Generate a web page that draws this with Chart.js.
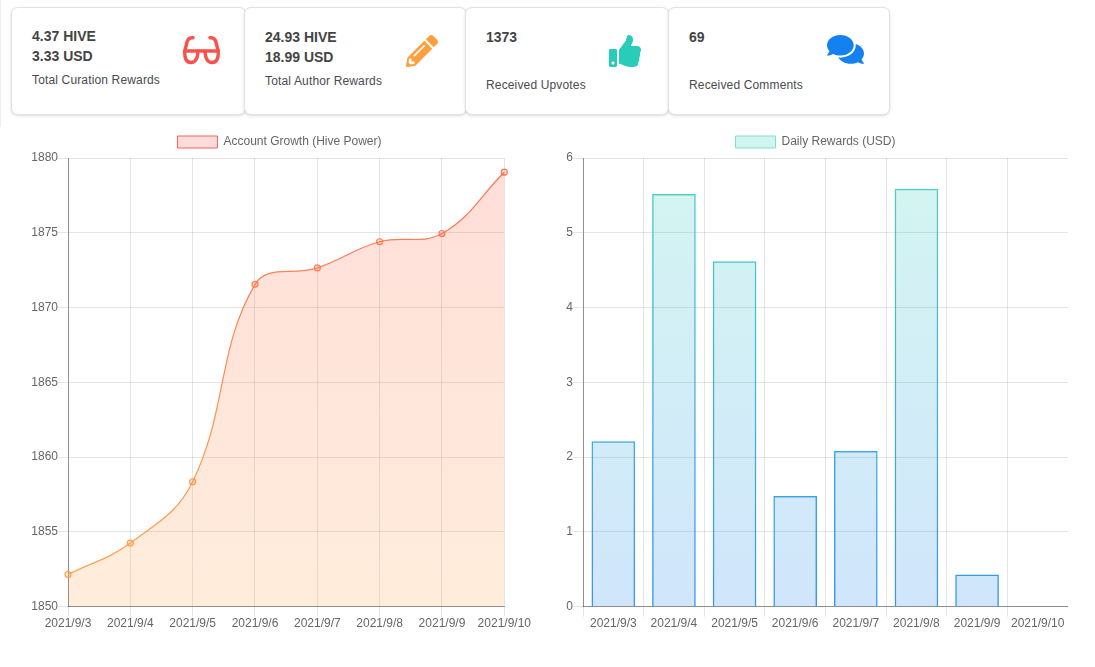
<!DOCTYPE html>
<html>
<head>
<meta charset="utf-8">
<script src="https://cdn.jsdelivr.net/npm/chart.js@4"></script>
<style>
html,body{margin:0;padding:0;background:#fff;width:1095px;height:667px;overflow:hidden;font-family:"Liberation Sans",Arial,sans-serif}
.edge{position:absolute;left:0;top:0;width:1px;height:127px;background:#eee}
.card{position:absolute;top:7px;height:106px;box-sizing:content-box;background:#fff;border:1px solid #e2e2e2;border-radius:7px;box-shadow:0 1px 3px rgba(0,0,0,.14)}
.t{position:absolute;white-space:nowrap;color:#444;font-weight:bold;font-size:14px;line-height:16px}
.l{position:absolute;white-space:nowrap;color:#4a4a50;font-size:12px;line-height:14px;letter-spacing:.15px}
svg{position:absolute}
canvas{position:absolute}
</style>
</head>
<body>
<div class="edge"></div>
<div id="cards"></div>
<svg style="left:183px;top:36px" width="37" height="29" viewBox="0 0 37 29" fill="none" stroke="#f9524a" stroke-width="3.4" stroke-linecap="round" stroke-linejoin="round">
  <path d="M10 1.800 C6 1.200 4.500 3.500 3.800 7 L1.800 15"/>
  <path d="M27 1.800 C31 1.200 32.500 3.500 33.200 7 L35.200 15"/>
  <path d="M1.800 15 H35.200"/>
  <path d="M1.800 15 C1.500 21 2.500 26.500 8 26.500 C13.500 26.500 14.800 21 15 15"/>
  <path d="M35.200 15 C35.500 21 34.500 26.500 29 26.500 C23.500 26.500 22.200 21 22 15"/>
</svg>
<svg style="left:406px;top:35px" width="32" height="32" viewBox="0 0 512 512"><path fill="#ff9f40" d="M497.9 142.1l-46.1 46.1c-4.7 4.7-12.3 4.7-17 0l-111-111c-4.7-4.7-4.7-12.3 0-17l46.1-46.1c18.7-18.7 49.1-18.7 67.9 0l60.1 60.1c18.8 18.7 18.8 49.1 0 67.9zM284.2 99.8L21.6 362.4.4 483.9c-2.9 16.4 11.4 30.6 27.8 27.8l121.5-21.3 262.6-262.6c4.7-4.7 4.7-12.3 0-17l-111-111c-4.8-4.7-12.4-4.7-17.1 0zM124.1 339.9c-5.5-5.5-5.5-14.3 0-19.8l154-154c5.5-5.5 14.3-5.5 19.8 0s5.5 14.3 0 19.8l-154 154c-5.5 5.5-14.3 5.5-19.8 0zM88 424h48v36.300l-64.500 11.300-31.100-31.100L51.700 376H88v48z"/></svg>
<svg style="left:609px;top:35px" width="32" height="32" viewBox="0 0 512 512"><path fill="#27cdb8" d="M104 224H24c-13.255 0-24 10.745-24 24v240c0 13.255 10.745 24 24 24h80c13.255 0 24-10.745 24-24V248c0-13.255-10.745-24-24-24zM64 472c-13.255 0-24-10.745-24-24s10.745-24 24-24 24 10.745 24 24-10.745 24-24 24zM384 81.452c0 42.416-25.970 66.208-33.277 94.548h101.723c33.397 0 59.397 27.746 59.553 58.098.084 17.938-7.546 37.249-19.439 49.197l-.11.11c9.836 23.337 8.237 56.037-9.308 79.469 8.681 25.895-.069 57.704-16.382 74.757 4.298 17.598 2.244 32.575-6.148 44.632C440.202 511.587 389.616 512 346.839 512l-2.845-.001c-48.287-.017-87.806-17.598-119.560-31.725-15.957-7.099-36.821-15.887-52.651-16.178-6.540-.12-11.783-5.457-11.783-11.998v-213.770c0-3.200 1.282-6.271 3.558-8.521 39.614-39.144 56.648-80.587 89.117-113.111 14.804-14.832 20.188-37.236 25.393-58.902C282.515 39.293 291.817 0 312 0c24 0 72 8 72 81.452z"/></svg>
<svg style="left:827px;top:33px" width="37" height="37" viewBox="0 0 576 576"><path fill="#1481f0" d="M416 192c0-88.400-93.100-160-208-160S0 103.600 0 192c0 34.300 14.100 65.900 38 92-13.400 30.200-35.500 54.200-35.800 54.500-2.200 2.300-2.800 5.700-1.500 8.700S4.800 352 8 352c36.600 0 66.900-12.300 88.700-25 32.200 15.700 70.300 25 111.300 25 114.900 0 208-71.600 208-160zm122 220c23.900-26 38-57.700 38-92 0-66.900-53.500-124.200-129.300-148.100.9 6.600 1.300 13.300 1.300 20.100 0 105.900-107.700 192-240 192-10.800 0-21.300-.8-31.700-1.900C207.800 439.600 281.800 480 368 480c41 0 79.100-9.200 111.300-25 21.800 12.700 52.100 25 88.700 25 3.200 0 6.100-1.900 7.300-4.800 1.300-2.900.7-6.300-1.500-8.700-.3-.3-22.400-24.200-35.800-54.500z"/></svg>
<canvas id="growth" style="left:28px;top:126px"></canvas>
<canvas id="rewards" style="left:563px;top:126px"></canvas>
<script>
const dates = ["2021/9/3","2021/9/4","2021/9/5","2021/9/6","2021/9/7","2021/9/8","2021/9/9","2021/9/10"];
const hivePower = [1852.15,1854.25,1858.35,1871.55,1872.65,1874.4,1874.95,1879.05];
const dailyRewards = [2.21,5.52,4.62,1.48,2.08,5.59,0.43,0];
const growthLabel = "Account Growth (Hive Power)";
const rewardsLabel = "Daily Rewards (USD)";
const cardLeft = [11,244,465,668];
const cardWidth = [233,221,202,220];
const cardLines = [["4.37 HIVE","3.33 USD"],["24.93 HIVE","18.99 USD"],["1373",""],["69",""]];
const cardCaptions = ["Total Curation Rewards","Total Author Rewards","Received Upvotes","Received Comments"];
const cardTextX = [32,265,486,689];
const cardLineY = [[28,48],[29,49],[29,0],[29,0]];
const cardCaptionY = [73,74,78,78];

const host = document.getElementById('cards');
cardCaptions.forEach((cap,i)=>{
  const c=document.createElement('div');c.className='card';
  c.style.left=cardLeft[i]+'px';c.style.width=cardWidth[i]+'px';host.appendChild(c);
  cardLines[i].forEach((t,j)=>{ if(!t) return;
    const d=document.createElement('div');d.className='t';d.textContent=t;
    d.style.left=cardTextX[i]+'px';d.style.top=cardLineY[i][j]+'px';host.appendChild(d);});
  const l=document.createElement('div');l.className='l';l.textContent=cap;
  l.style.left=cardTextX[i]+'px';l.style.top=cardCaptionY[i]+'px';host.appendChild(l);
});

Chart.defaults.font.family='"Liberation Sans",Arial,sans-serif';
Chart.defaults.font.size=12;
Chart.defaults.color='#666';

function grad(chart,top,bottom){
  const a=chart.chartArea; if(!a) return top;
  const g=chart.ctx.createLinearGradient(0,a.top,0,a.bottom);
  g.addColorStop(0,top);g.addColorStop(1,bottom);return g;
}
const gridCol='rgba(0,0,0,0.1)', axisCol='rgba(0,0,0,0.38)';
function axes(yWidth,yOpts){
  return {
    x:{grid:{color:gridCol,tickLength:10},border:{color:axisCol},ticks:{maxRotation:0,autoSkip:false,padding:0}},
    y:Object.assign({grid:{color:gridCol,tickLength:10},border:{color:axisCol},
      afterFit(s){s.width=yWidth;}},yOpts)
  };
}
function legendOpts(fill,stroke){
  return {position:'top',labels:{boxWidth:40,boxHeight:12,padding:10,color:'#666',
    generateLabels(ch){return ch.data.datasets.map((d,i)=>({text:d.label,fillStyle:fill,strokeStyle:stroke,lineWidth:1,datasetIndex:i,fontColor:'#666'}));}}};
}
function size(id,w,h){const c=document.getElementById(id);c.style.width=w+'px';c.style.height=h+'px';c.width=w;c.height=h;return c;}
const plainTick=v=>String(v);

new Chart(size('growth',503,505),{
  type:'line',
  data:{labels:dates,datasets:[{
    label:growthLabel,data:hivePower,fill:true,tension:0.4,borderWidth:1.2,
    backgroundColor:c=>grad(c.chart,'rgba(255,88,62,0.2)','rgba(255,159,64,0.19)'),
    borderColor:c=>grad(c.chart,'rgba(255,100,70,0.9)','rgba(255,159,64,0.9)'),
    pointBackgroundColor:c=>grad(c.chart,'rgba(255,88,62,0.2)','rgba(255,159,64,0.2)'),
    pointBorderColor:c=>grad(c.chart,'rgba(255,100,70,0.9)','rgba(255,159,64,0.9)'),
    pointBorderWidth:1.2,pointRadius:3
  }]},
  options:{responsive:false,animation:false,devicePixelRatio:1,
    plugins:{legend:legendOpts('#fcdcda','#f9625a'),tooltip:{enabled:false}},
    scales:axes(40,{min:1850,max:1880,ticks:{stepSize:5,padding:0,callback:plainTick}})}
});
new Chart(size('rewards',505,505),{
  type:'bar',
  data:{labels:dates,datasets:[{
    label:rewardsLabel,data:dailyRewards,borderWidth:1.5,
    backgroundColor:c=>grad(c.chart,'rgba(39,205,184,0.2)','rgba(20,129,240,0.2)'),
    borderColor:c=>grad(c.chart,'rgba(39,205,184,0.85)','rgba(20,129,240,0.85)')
  }]},
  options:{responsive:false,animation:false,devicePixelRatio:1,
    plugins:{legend:legendOpts('#d2f4f0','#7fdfd3'),tooltip:{enabled:false}},
    scales:axes(20,{min:0,max:6,ticks:{stepSize:1,padding:0,callback:plainTick}})}
});
</script>
</body>
</html>
